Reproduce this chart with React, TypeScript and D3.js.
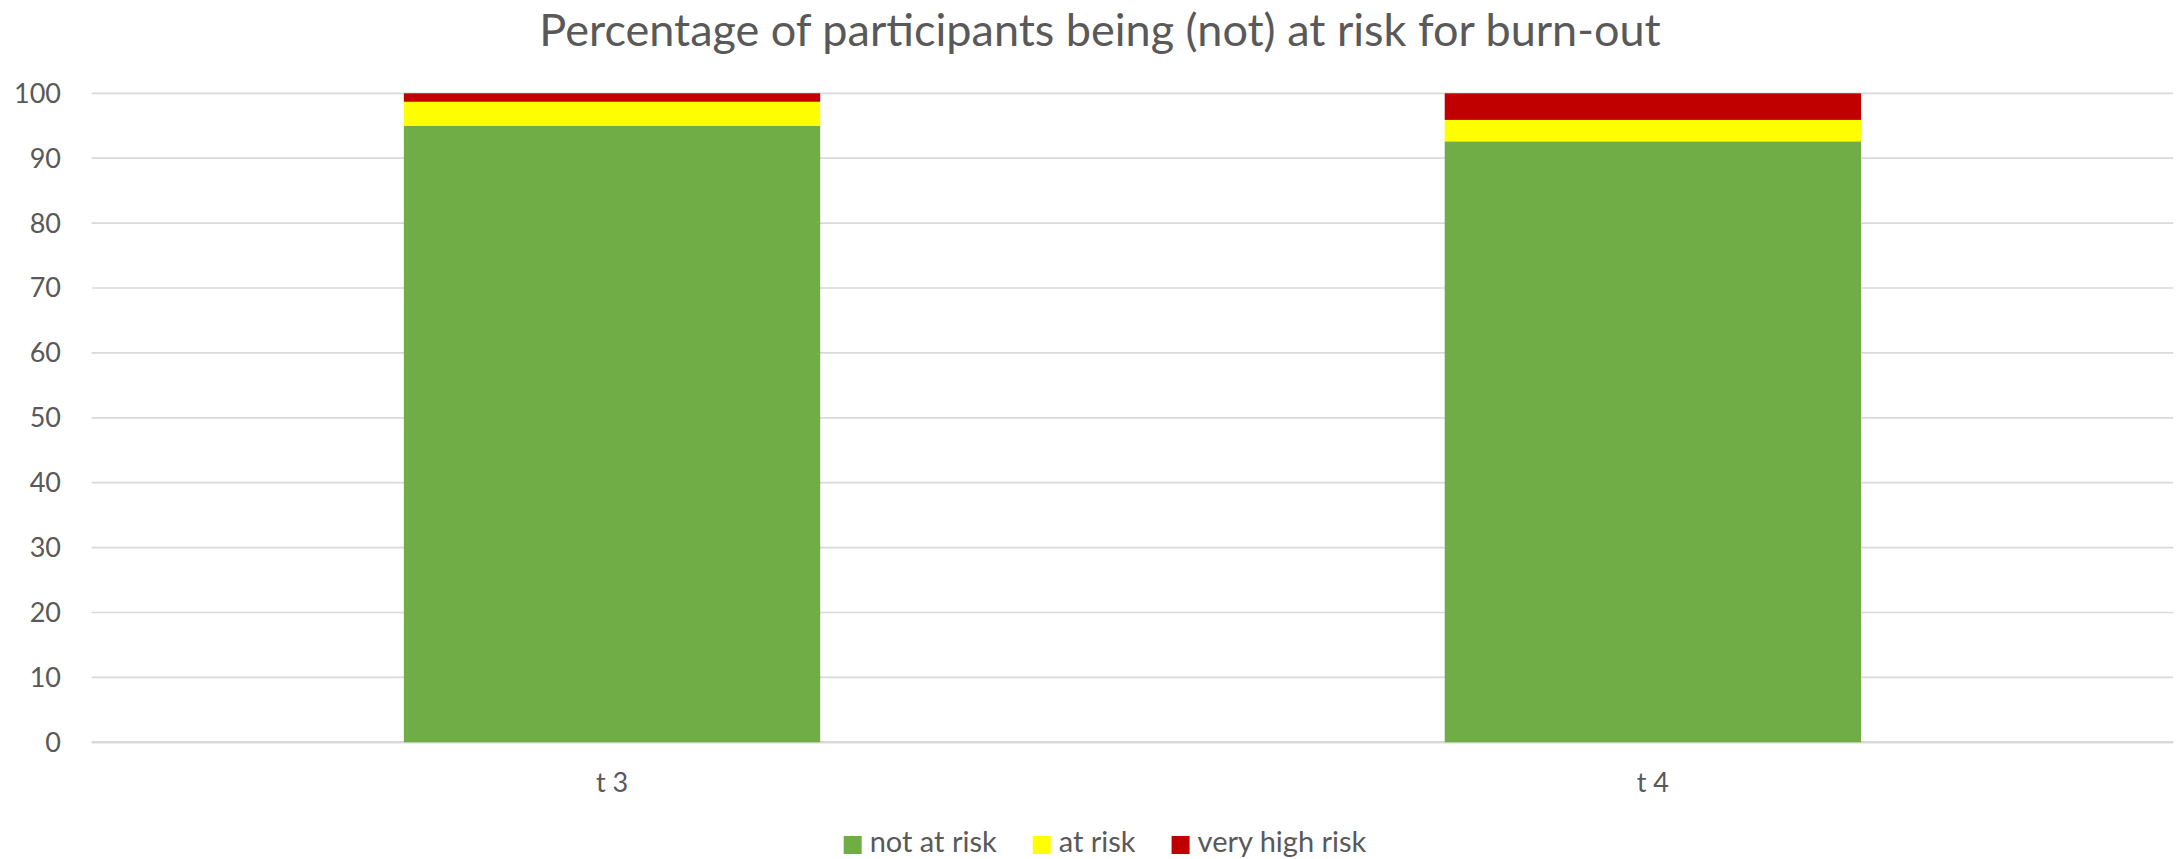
import React, { useRef, useEffect } from 'react';
import * as d3 from 'd3';

// data
const categories = ['t 3', 't 4'];
const notAtRisk = [95.0, 92.6];
const atRisk = [3.7, 3.3];
const veryHighRisk = [1.3, 4.1];
const seriesNames = ['not at risk', 'at risk', 'very high risk'];
const seriesColors = ['#70AD47', '#FFFF00', '#C00000'];
const yTicks = [0, 10, 20, 30, 40, 50, 60, 70, 80, 90, 100];

const title = 'Percentage of participants being (not) at risk for burn-out';

const W = 2176;
const H = 859;
const FONT = "Lato, 'Open Sans', sans-serif";
const TEXT = '#595959';

const App = () => {
  const ref = useRef<SVGSVGElement>(null);

  useEffect(() => {
    const svg = d3.select(ref.current);
    svg.selectAll('*').remove();

    const x = d3.scaleBand()
      .domain(categories)
      .range([91.6, 2173.3])
      .paddingInner(0.6)
      .paddingOuter(0.3);

    const y = d3.scaleLinear()
      .domain([0, 100])
      .range([742.3, 93.3]);

    // title
    svg.append('text')
      .attr('x', 1100)
      .attr('y', 46)
      .attr('text-anchor', 'middle')
      .style('font-family', FONT)
      .style('font-size', '45px')
      .attr('fill', TEXT)
      .text(title);

    // gridlines
    svg.append('g')
      .selectAll('line')
      .data(yTicks)
      .join('line')
        .attr('x1', x.range()[0])
        .attr('x2', x.range()[1])
        .attr('y1', d => y(d))
        .attr('y2', d => y(d))
        .attr('stroke', '#D9D9D9')
        .attr('stroke-width', d => d === 0 ? 2.5 : 1.7);

    // y labels
    svg.append('g')
      .selectAll('text')
      .data(yTicks)
      .join('text')
        .attr('x', 61)
        .attr('y', d => y(d))
        .attr('dy', '0.35em')
        .attr('text-anchor', 'end')
        .style('font-family', FONT)
        .style('font-size', '27px')
        .attr('fill', TEXT)
        .text(d => d);

    // stacked bars
    const rows = categories.map((c, i) => ({
      cat: c,
      [seriesNames[0]]: notAtRisk[i],
      [seriesNames[1]]: atRisk[i],
      [seriesNames[2]]: veryHighRisk[i],
    }));
    const stacked = d3.stack<any>().keys(seriesNames)(rows);

    svg.append('g')
      .selectAll('g')
      .data(stacked)
      .join('g')
        .attr('fill', (_, i) => seriesColors[i])
      .selectAll('rect')
      .data(d => d)
      .join('rect')
        .attr('x', d => x(d.data.cat)!)
        .attr('width', x.bandwidth())
        .attr('y', d => y(d[1]))
        .attr('height', d => y(d[0]) - y(d[1]));

    // x labels
    svg.append('g')
      .selectAll('text')
      .data(categories)
      .join('text')
        .attr('x', d => x(d)! + x.bandwidth() / 2)
        .attr('y', 792)
        .attr('text-anchor', 'middle')
        .style('font-family', FONT)
        .style('font-size', '27px')
        .attr('fill', TEXT)
        .text(d => d);

    // legend, laid out by measured text widths and centred
    const legend = svg.append('g');
    const items = legend.selectAll('g')
      .data(seriesNames)
      .join('g');
    items.append('rect')
      .attr('y', 836)
      .attr('width', 18)
      .attr('height', 18)
      .attr('fill', (_, i) => seriesColors[i]);
    items.append('text')
      .attr('x', 26)
      .attr('y', 852)
      .style('font-family', FONT)
      .style('font-size', '29px')
      .attr('fill', TEXT)
      .text(d => d);

    let offset = 0;
    const gap = 36;
    items.each(function () {
      const t = d3.select(this).select('text').node() as SVGTextElement;
      d3.select(this).attr('data-x', offset);
      offset += 26 + t.getComputedTextLength() + gap;
    });
    const total = offset - gap;
    const start = 1105 - total / 2;
    items.attr('transform', function () {
      return `translate(${start + +d3.select(this).attr('data-x')},0)`;
    });
  }, []);

  return (
    <svg
      ref={ref}
      width={W}
      height={H}
      style={{ position: 'absolute', left: 0, top: 0, background: '#fff' }}
    />
  );
};

export default App;
